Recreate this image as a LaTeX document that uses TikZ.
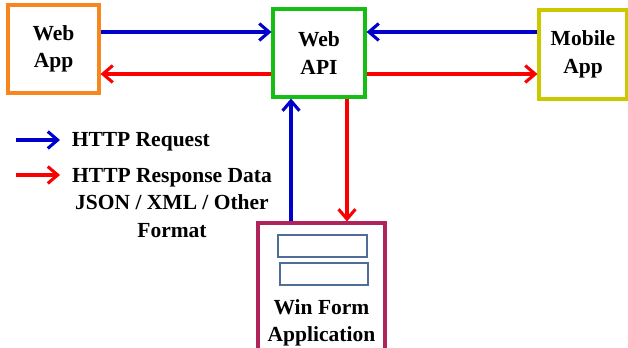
\documentclass[tikz,border=0pt]{standalone}
\usepackage{fontspec}
\setmainfont{Liberation Serif}
\usepackage{tikz}
\usetikzlibrary{arrows.meta}

\definecolor{boxorange}{RGB}{247,134,30}
\definecolor{boxgreen}{RGB}{20,190,20}
\definecolor{boxyellow}{RGB}{204,200,0}
\definecolor{boxpurple}{RGB}{176,36,92}
\definecolor{slot}{RGB}{79,109,150}
\definecolor{reqblue}{RGB}{0,0,204}
\definecolor{resred}{RGB}{250,0,0}

\begin{document}
\begin{tikzpicture}[
        box/.style = {draw, line width = 2.2pt, align = center, inner sep = 0pt},
        label/.style = {font = \fontsize{15.3}{19.5}\selectfont\bfseries, align = center},
        request/.style = {draw = reqblue, line width = 2.2pt, -{Straight Barb[length = 7pt, width = 12pt]}},
        response/.style = {draw = resred, line width = 2.2pt, -{Straight Barb[length = 7pt, width = 12pt]}}
    ]
        \useasboundingbox (0, 0) rectangle (15.7, 8.7);
        % the three clients and the api
        \node [box, boxorange, minimum width = 2.275cm, minimum height = 2.2cm] (webapp) at (1.3375, 7.475) {};
        \node [label] at (webapp) {Web\\App};
        \node [box, boxgreen, minimum width = 2.3cm, minimum height = 2.2cm] (webapi) at (7.975, 7.375) {};
        \node [label] at (webapi) {Web\\API};
        \node [box, boxyellow, minimum width = 2.2cm, minimum height = 2.225cm] (mobileapp) at (14.575, 7.3375) {};
        \node [label] at (mobileapp) {Mobile\\App};
        \node [box, boxpurple, minimum width = 3.175cm, minimum height = 3.3cm] (winform) at (8.0375, 1.475) {};
        \draw [slot, line width = 1pt] (6.95, 2.825) rectangle (9.175, 2.275);
        \draw [slot, line width = 1pt] (7.0, 2.125) rectangle (9.2, 1.575);
        \node [label] at (8.0375, 0.625) {Win Form\\Application};
        % web app <-> api
        \draw [request] ([yshift = 0.425cm]webapp.east) -- ([yshift = 0.425cm]webapp.east -| webapi.west);
        \draw [response] ([yshift = -0.525cm]webapi.west) -- ([yshift = -0.525cm]webapi.west -| webapp.east);
        % mobile <-> api
        \draw [request] ([yshift = 0.5625cm]mobileapp.west) -- ([yshift = 0.5625cm]mobileapp.west -| webapi.east);
        \draw [response] ([yshift = -0.525cm]webapi.east) -- ([yshift = -0.525cm]webapi.east -| mobileapp.west);
        % win form <-> api
        \draw [request] ([xshift = -0.7625cm]winform.north) -- ([xshift = -0.7625cm]winform.north |- webapi.south);
        \draw [response] ([xshift = 0.7cm]webapi.south) -- ([xshift = 0.7cm]webapi.south |- winform.north);
        % legend
        \draw [request] (0.4, 5.2) -- (1.5, 5.2);
        \node [label, anchor = west] at (1.67, 5.15) {HTTP Request};
        \draw [response] (0.4, 4.325) -- (1.5, 4.325);
        \node [label] at (4.3, 3.625) {HTTP Response Data\\JSON / XML / Other\\Format};
    \end{tikzpicture}
\end{document}
